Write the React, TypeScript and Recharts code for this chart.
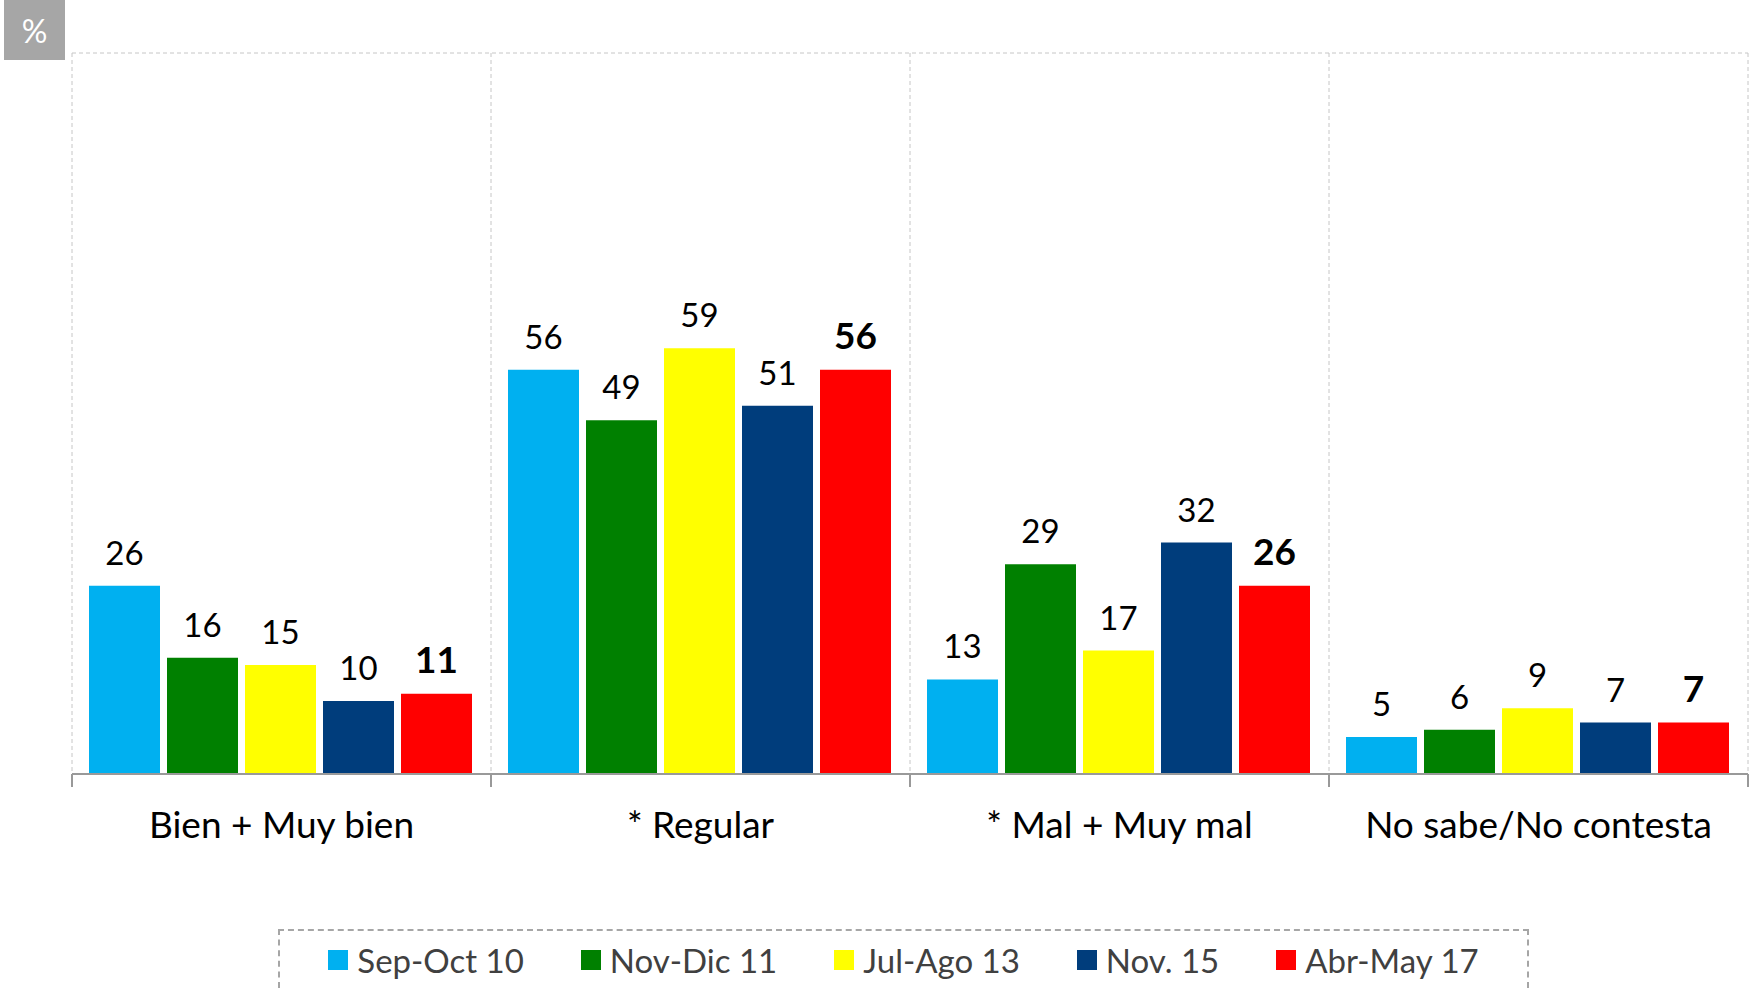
import React from 'react';
import { BarChart, Bar, XAxis, YAxis, CartesianGrid, LabelList, Legend, ReferenceLine } from 'recharts';

const categories = ['Bien + Muy bien', '* Regular', '* Mal + Muy mal', 'No sabe/No contesta'];
const sepOct10 = [26, 56, 13, 5];
const novDic11 = [16, 49, 29, 6];
const julAgo13 = [15, 59, 17, 9];
const nov15 = [10, 51, 32, 7];
const abrMay17 = [11, 56, 26, 7];
const seriesNames = ['Sep-Oct 10', 'Nov-Dic 11', 'Jul-Ago 13', 'Nov. 15', 'Abr-May 17'];
const seriesColors = ['#00b0f0', '#008000', '#ffff00', '#003d7c', '#ff0000'];
const boundaryTicks = [0, 1, 2, 3, 4];

const data = categories.map((category, i) => ({
  category,
  slot: i,
  s0: sepOct10[i],
  s1: novDic11[i],
  s2: julAgo13[i],
  s3: nov15[i],
  s4: abrMay17[i],
}));

const FONT = 'Lato, "Open Sans", sans-serif';

const CategoryTick = ({ x, y, payload }: any) => (
  <text x={x} y={y} dy={65} textAnchor="middle" fontSize={37} fill="#000" fontFamily={FONT}>
    {payload.value}
  </text>
);

const EmptyTick = () => <g />;

const LegendContent = ({ payload }: any) => {
  const items = [...(payload || [])].sort(
    (a: any, b: any) => seriesNames.indexOf(a.value) - seriesNames.indexOf(b.value)
  );
  return (
    <div style={{ display: 'flex', justifyContent: 'center', alignItems: 'center', height: '100%', gap: 57 }}>
      {items.map((p: any) => (
        <div key={p.value} style={{ display: 'flex', alignItems: 'center' }}>
          <span style={{ width: 20, height: 20, background: p.color, marginRight: 9, display: 'inline-block' }} />
          <span style={{ fontSize: 33, color: '#404040', fontFamily: FONT }}>{p.value}</span>
        </div>
      ))}
    </div>
  );
};

export default function App() {
  return (
    <div style={{ position: 'absolute', left: 0, top: 0, width: 1750, height: 988, overflow: 'hidden', background: '#fff', fontFamily: FONT }}>
      <BarChart
        width={1750}
        height={988}
        data={data}
        margin={{ top: 53, right: 2, left: 72, bottom: 213 }}
        barCategoryGap={17}
        barGap={7}
      >
        <CartesianGrid xAxisId="grid" horizontal={false} stroke="#c6c6c6" strokeDasharray="4 3" />
        <ReferenceLine y={100} stroke="#c6c6c6" strokeDasharray="4 3" />
        <XAxis
          xAxisId="grid"
          dataKey="slot"
          type="number"
          domain={[0, 'dataMax + 1']}
          ticks={boundaryTicks}
          interval={0}
          tick={<EmptyTick />}
          tickSize={13}
          height={1}
          axisLine={{ stroke: '#999', strokeWidth: 2 }}
          tickLine={{ stroke: '#999', strokeWidth: 2 }}
        />
        <XAxis
          dataKey="category"
          axisLine={false}
          tickLine={false}
          tickSize={0}
          tickMargin={0}
          height={1}
          interval={0}
          tick={<CategoryTick />}
        />
        <YAxis domain={[0, 100]} hide />
        <Legend
          layout="horizontal"
          verticalAlign="middle"
          align="center"
          content={<LegendContent />}
          wrapperStyle={{
            left: 278,
            top: 929,
            width: 1251,
            height: 59,
            border: '2px dashed #a6a6a6',
            borderBottom: 'none',
            boxSizing: 'border-box',
          }}
        />
        {seriesNames.map((name, i) => (
          <Bar key={name} dataKey={`s${i}`} name={name} fill={seriesColors[i]} isAnimationActive={false}>
            <LabelList
              dataKey={`s${i}`}
              position="top"
              offset={21}
              fontSize={i === 4 ? 37 : 33}
              fill="#000"
              fontWeight={i === 4 ? 'bold' : 'normal'}
              fontFamily={FONT}
            />
          </Bar>
        ))}
      </BarChart>
      <div
        style={{
          position: 'absolute',
          left: 4,
          top: 0,
          width: 61,
          height: 60,
          background: '#a6a6a6',
          color: '#fff',
          fontSize: 32,
          display: 'flex',
          alignItems: 'center',
          justifyContent: 'center',
        }}
      >
        %
      </div>
    </div>
  );
}
